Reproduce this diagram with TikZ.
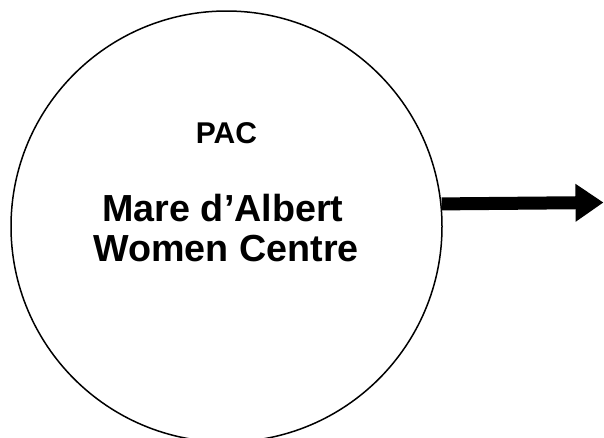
\documentclass[tikz,border=0pt]{standalone}
\usepackage{fontspec}
\setmainfont{Liberation Sans}
\usetikzlibrary{arrows.meta}
\begin{document}
\begin{tikzpicture}[x=1pt,y=-1pt,
  ring/.style={circle,draw,line width=1.5pt,minimum size=431pt,inner sep=0pt},
  title/.style={anchor=base,font=\bfseries\fontsize{30}{34}\selectfont},
  big/.style={anchor=base,font=\bfseries\fontsize{37.7}{41}\selectfont},
  flow/.style={line width=13pt,-{Triangle[length=28pt,width=36pt]}}]
\useasboundingbox (0,0) rectangle (604,437);
\begin{scope}
\clip (0,0) rectangle (604,437);
\node[ring] (c) at (226.5,226.5) {};
\end{scope}
\node[title] (pac) at (226.5,143.3) {PAC};
\node[big] (l1) at (223,221) {Mare d’Albert};
\node[big] (l2) at (226,261.7) {Women Centre};
\coordinate (tip) at (603.5,202.5);
\draw[flow] (c.6.4) -- (tip);
\end{tikzpicture}
\end{document}
